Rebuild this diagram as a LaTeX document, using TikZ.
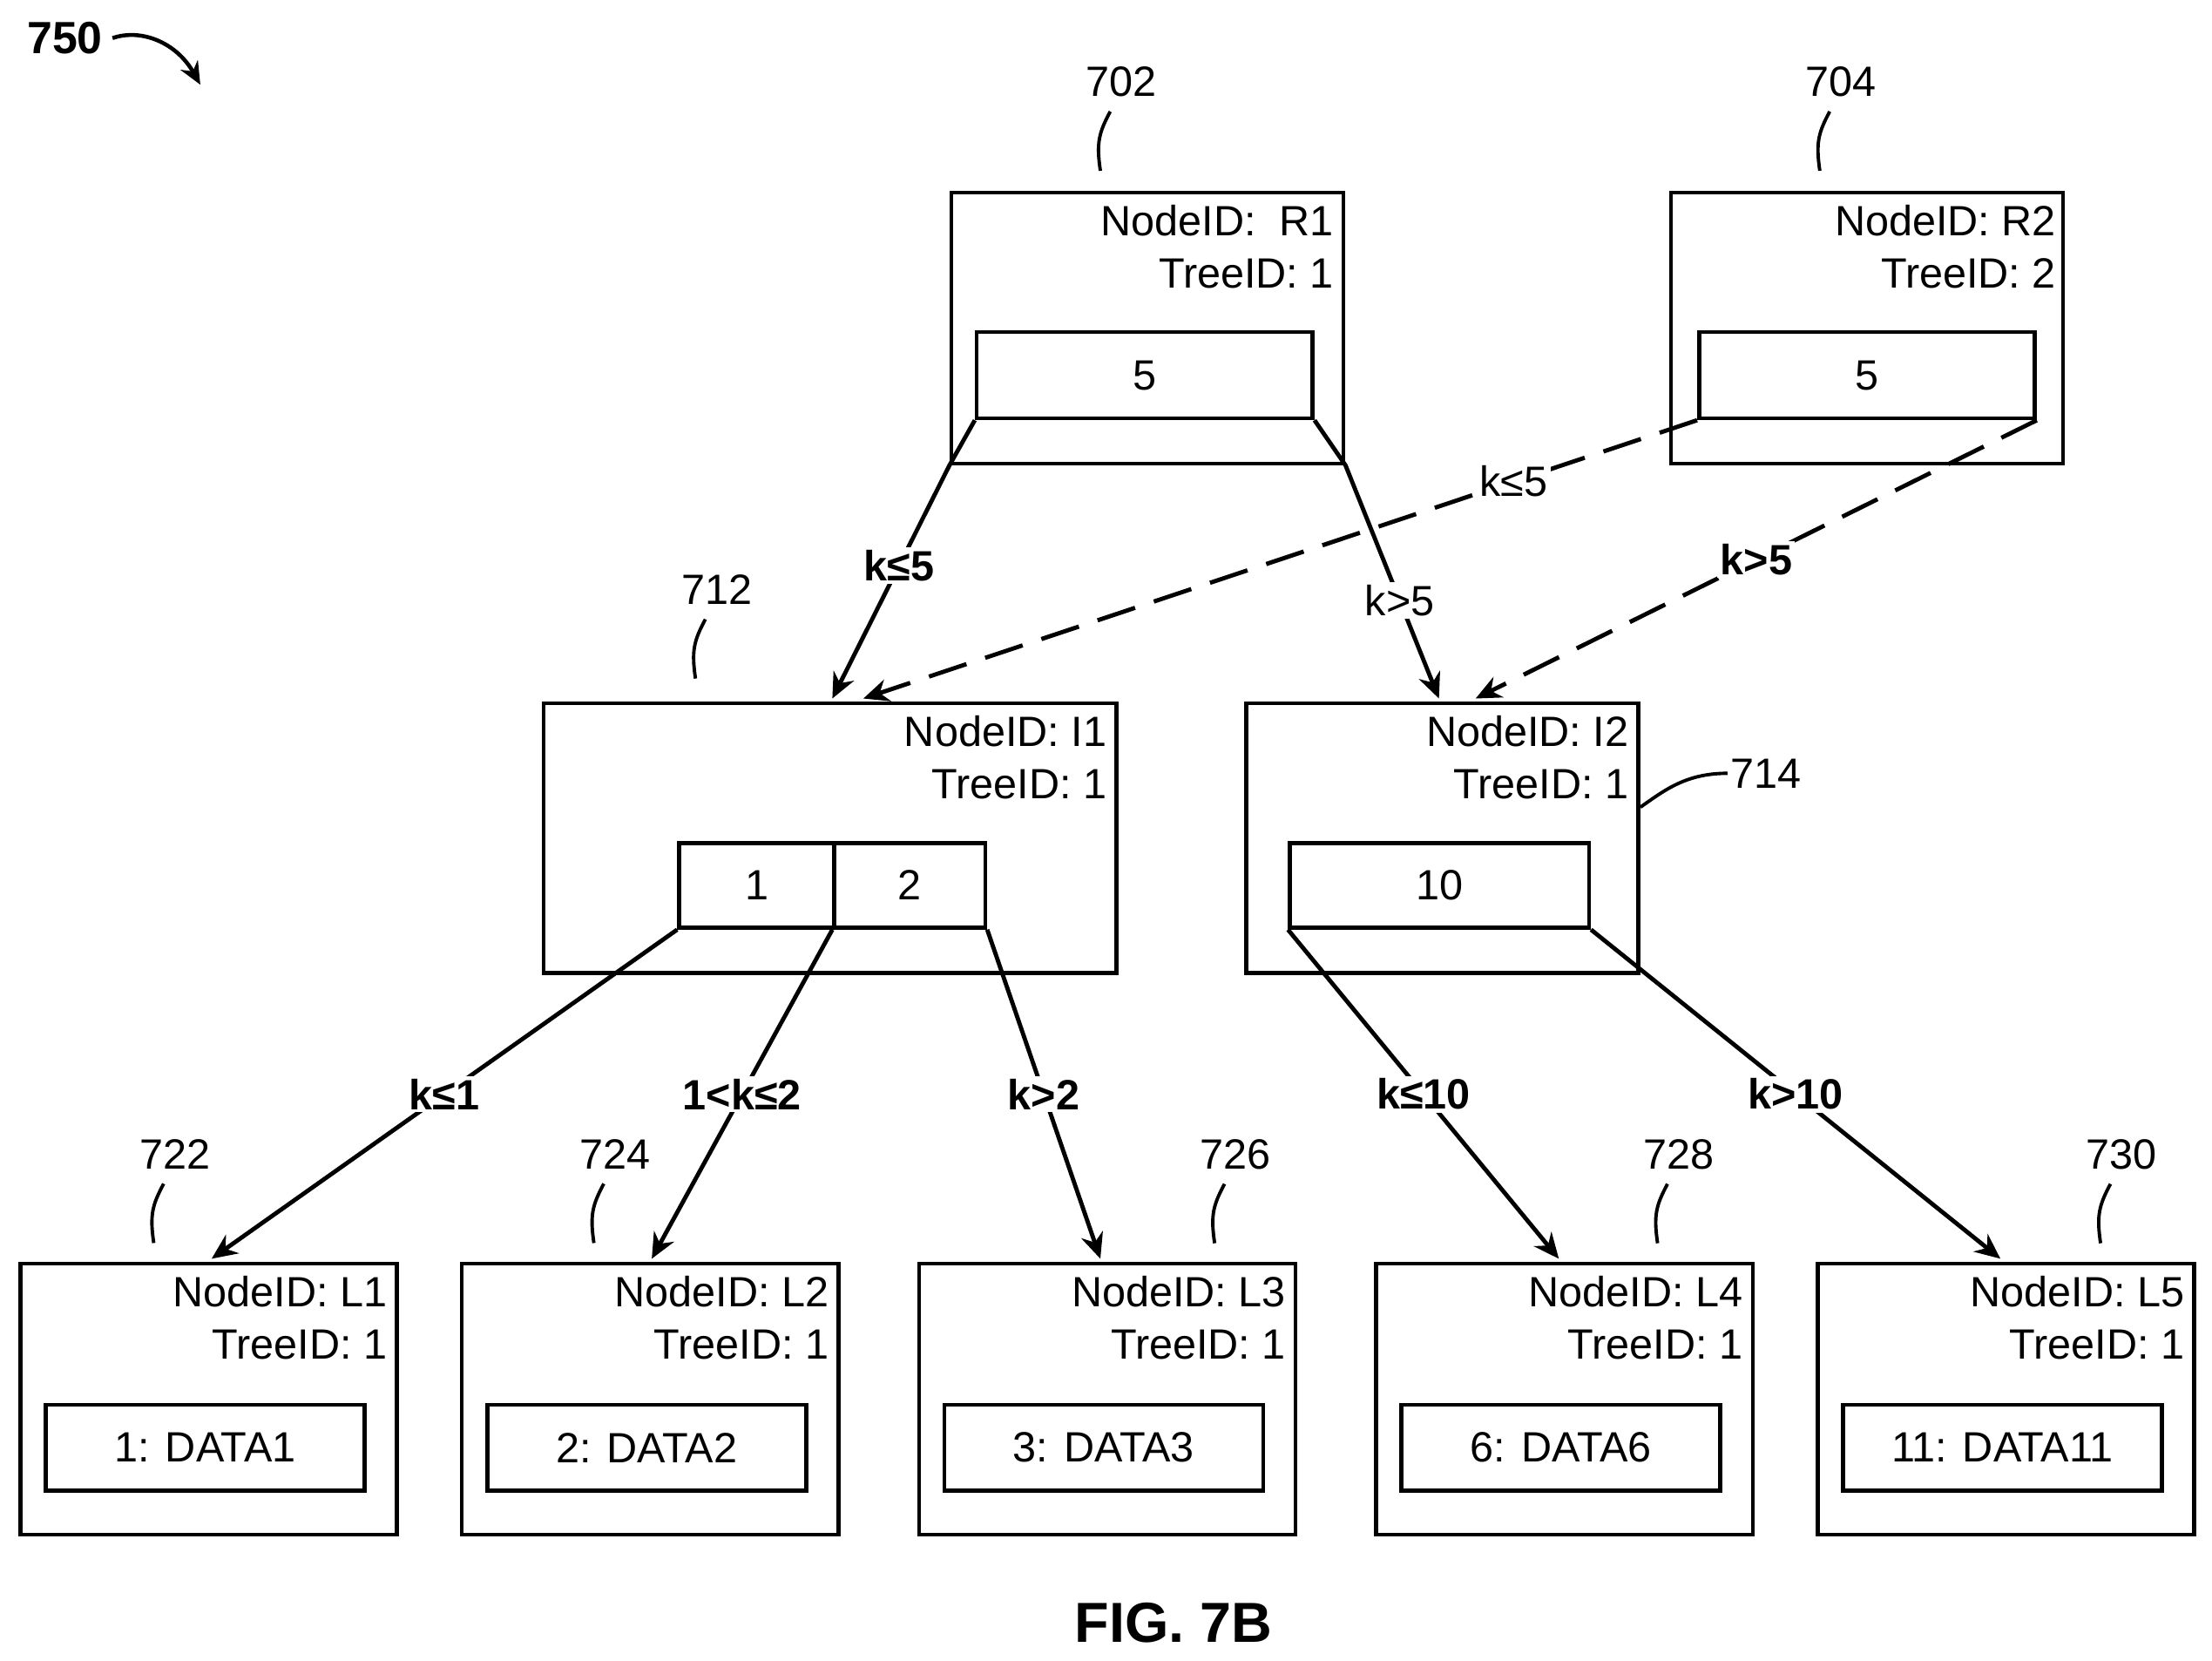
\documentclass[tikz,border=0pt]{standalone}
\usepackage{fontspec}
\setmainfont{Liberation Sans}
\usetikzlibrary{arrows.meta,calc}
\newcommand\myleaf[5]{%
 \node[box,minimum width=133.5pt,minimum height=96pt] (#1) at (#2,894) {};
 \node[idt] at ($(#1.north east)+(-8,10)$) {NodeID: #3\\TreeID: 1};
 \node[box,minimum width=113pt,minimum height=30.5pt,anchor=north west,label={[lab]center:#4}] (#1d) at ($(#1.north west)+(18,100)$) {};
 \coordinate (#1t) at ($(#1.north west)+(#5,-2)$);
}
\newcommand\myref[3]{%
 \node[refn] (r#1) at (#2,#3) {#1};
 \draw[thin1] ($(r#1.south)+(-15,50)$) .. controls +(-3,-20) and +(-8,15) .. ($(r#1.south)+(-8,8)$);
}
\begin{document}
\begin{tikzpicture}[x=0.5pt,y=-0.5pt,
 box/.style={draw,line width=1.4pt,anchor=north west,inner sep=0},
 idt/.style={anchor=north east,align=right,font=\fontsize{15pt}{18.5pt}\selectfont,inner sep=0},
 lab/.style={font=\fontsize{15pt}{18pt}\selectfont},
 refn/.style={font=\fontsize{15pt}{18pt}\selectfont,inner sep=1pt},
 thin1/.style={line width=1.2pt},
 edge/.style={line width=1.5pt,-{Stealth[length=9pt,width=8pt]}},
 el/.style={font=\bfseries\fontsize{15pt}{18pt}\selectfont,fill=white,inner sep=1pt},
 eln/.style={font=\fontsize{15pt}{18pt}\selectfont,fill=white,inner sep=1pt}]
\useasboundingbox (0,0) rectangle (1568,1177);
% R1
\node[box,minimum width=139pt,minimum height=96pt] (R1) at (673,135) {};
\node[idt] at ($(R1.north east)+(-8,10)$) {NodeID:\ \ R1\\TreeID: 1};
\node[box,minimum width=119pt,minimum height=30.5pt,label={[lab]center:5}] (R1k) at (691,234) {};
% R2
\node[box,minimum width=139pt,minimum height=96pt] (R2) at (1183,135) {};
\node[idt] at ($(R2.north east)+(-6,10)$) {NodeID: R2\\TreeID: 2};
\node[box,minimum width=119pt,minimum height=30.5pt,label={[lab]center:5}] (R2k) at (1203,234) {};
% I1
\node[box,minimum width=203pt,minimum height=95.5pt] (I1) at (384,497) {};
\node[idt] at ($(I1.north east)+(-8,10)$) {NodeID: I1\\TreeID: 1};
\node[box,minimum width=55pt,minimum height=30pt,label={[lab]center:1}] (I1a) at (480,596) {};
\node[box,minimum width=53.5pt,minimum height=30pt,label={[lab]center:2}] (I1b) at (590,596) {};
% I2
\node[box,minimum width=139pt,minimum height=95.5pt] (I2) at (882,497) {};
\node[idt] at ($(I2.north east)+(-8,10)$) {NodeID: I2\\TreeID: 1};
\node[box,minimum width=106pt,minimum height=30pt,label={[lab]center:10}] (I2k) at (913,596) {};
% leaves
\myleaf{L1}{13}{L1}{1: DATA1}{137}
\myleaf{L2}{326}{L2}{2: DATA2}{136}
\myleaf{L3}{650}{L3}{3: DATA3}{130}
\myleaf{L4}{974}{L4}{6: DATA6}{131}
\myleaf{L5}{1287}{L5}{11: DATA11}{131}
\coordinate (I1t1) at (590,495);
\coordinate (I1t2) at (612,495);
\coordinate (I2t1) at (1020,495);
\coordinate (I2t2) at (1046,495);
% edges
\draw[edge] (R1k.south west) -- (R1.south west) -- (I1t1) node[el,pos=0.43] {k≤5};
\draw[edge] (R1k.south east) -- (R1.south east) -- (I2t1) node[eln,pos=0.58] {k>5};
\draw[edge,dash pattern=on 14pt off 7pt] (R2k.south west) -- (I1t2) node[eln,pos=0.22] {k≤5};
\draw[edge,dash pattern=on 14pt off 7pt] (R2k.south east) -- (I2t2) node[el,pos=0.5] {k>5};
\draw[edge] (I1a.south west) -- (L1t) node[el,pos=0.5] {k≤1};
\draw[edge] (I1b.south west) -- (L2t) node[el,pos=0.5] {1<k≤2};
\draw[edge] (I1b.south east) -- (L3t) node[el,pos=0.5] {k>2};
\draw[edge] (I2k.south west) -- (L4t) node[el,pos=0.5] {k≤10};
\draw[edge] (I2k.south east) -- (L5t) node[el,pos=0.5] {k>10};
% reference numerals
\myref{702}{795}{58}
\myref{704}{1305}{58}
\myref{712}{508}{418}
\myref{722}{124}{818}
\myref{724}{436}{818}
\myref{726}{876}{818}
\myref{728}{1190}{818}
\myref{730}{1504}{818}
\node[refn] (r714) at (1252,548) {714};
\draw[thin1] (I2.east |- 0,572) .. controls (1180,560) and (1195,548) .. (r714.west);
\node[font=\bfseries\fontsize{16pt}{18pt}\selectfont] (r750) at (46,27) {750};
\coordinate (a750) at (142,60);
\draw[line width=1.4pt,-{Stealth[length=8pt,width=7pt]}] (r750.east) .. controls (100,20) and (125,30) .. (a750);
\node[font=\bfseries\fontsize{20pt}{24pt}\selectfont] (fig) at (832,1150) {FIG. 7B};
\end{tikzpicture}
\end{document}
